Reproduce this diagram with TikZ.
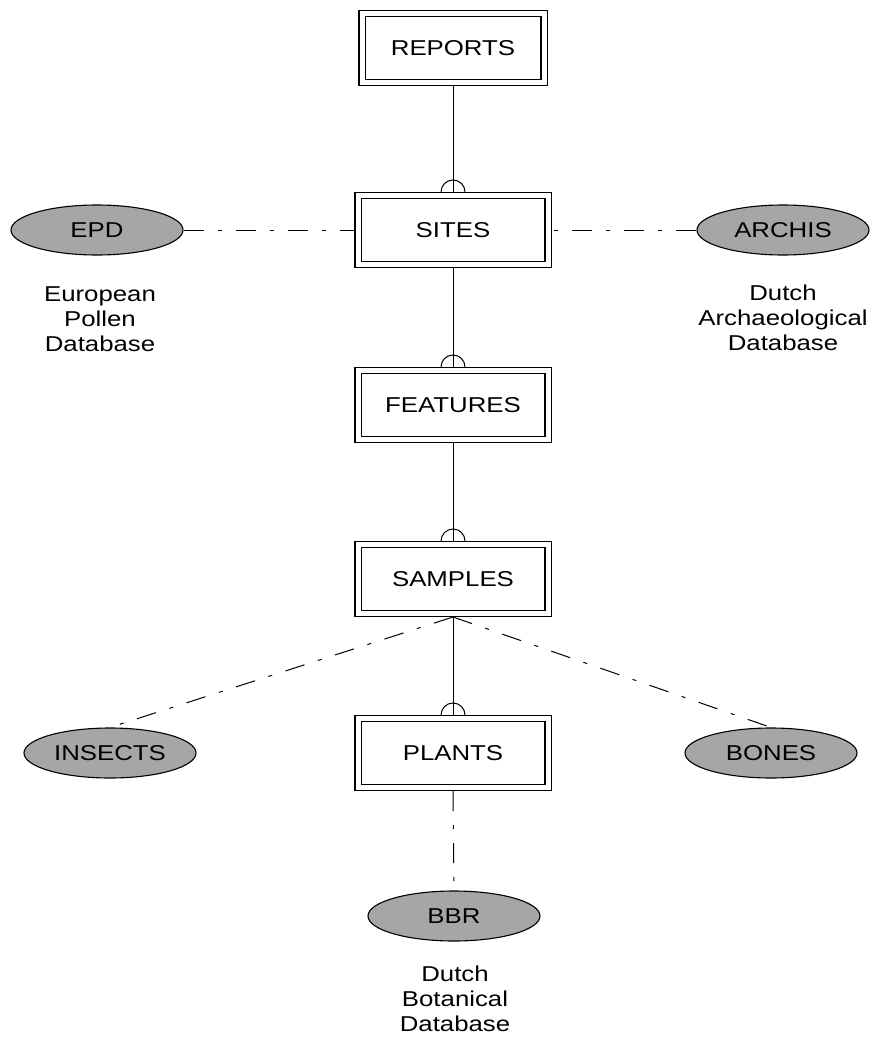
\documentclass[tikz,border=0pt]{standalone}
\usepackage{fontspec}
\setmainfont{Liberation Sans}[FakeStretch=1.2]
\usetikzlibrary{shapes.geometric}
\begin{document}
\begin{tikzpicture}[x=1pt,y=-1pt]
\tikzset{boite/.style={draw, double, double distance=5pt, line width=1.1pt, minimum width=190pt, minimum height=69pt, outer sep=3.5pt, font=\fontsize{21.5}{25}\selectfont}}
\tikzset{ovale/.style={draw, ellipse, fill=black!35, line width=1.1pt, minimum width=172pt, minimum height=50pt, inner sep=0pt, font=\fontsize{21.5}{25}\selectfont}}
\tikzset{note/.style={align=center, font=\fontsize{21.5}{25}\selectfont}}
\tikzset{lien/.style={line width=1pt, dash pattern=on 20pt off 14pt on 4pt off 14pt}}
\useasboundingbox (0,0) rectangle (875,1038);
\node[boite, minimum width=182pt] (R) at (453,48) {REPORTS};
\node[boite] (S) at (453,230) {SITES};
\node[boite] (F) at (453,405) {FEATURES};
\node[boite] (A) at (453,579) {SAMPLES};
\node[boite] (P) at (453,753) {PLANTS};
\node[ovale] (E) at (97,230) {EPD};
\node[ovale] (H) at (783,230) {ARCHIS};
\node[ovale] (I) at (110,753) {INSECTS};
\node[ovale] (B) at (771,753) {BONES};
\node[ovale] (N) at (454,916) {BBR};
\node[note] (EN) at (100,319) {European\\Pollen\\Database};
\node[note] (HN) at (783,318) {Dutch\\Archaeological\\Database};
\node[note] (NN) at (455,999) {Dutch\\Botanical\\Database};
\draw[line width=0.8pt] (R.south) -- (S.north);
\draw[line width=1pt] (S.south) -- (F.north);
\draw[line width=1pt] (F.south) -- (A.north);
\draw[line width=1pt] (A.south) -- (P.north);
\draw[line width=1pt] (S.north) ++(-12,0) arc (180:360:12);
\draw[line width=1pt] (F.north) ++(-12,0) arc (180:360:12);
\draw[line width=1pt] (A.north) ++(-12,0) arc (180:360:12);
\draw[line width=1pt] (P.north) ++(-12,0) arc (180:360:12);
\draw[lien] (E.east) -- (S.west);
\draw[lien] (H.west) -- (S.east);
\draw[lien] (A.south) -- (I.north);
\draw[lien] (A.south) -- (B.north);
\draw[lien] (P.south) -- (N.north);
\end{tikzpicture}
\end{document}
